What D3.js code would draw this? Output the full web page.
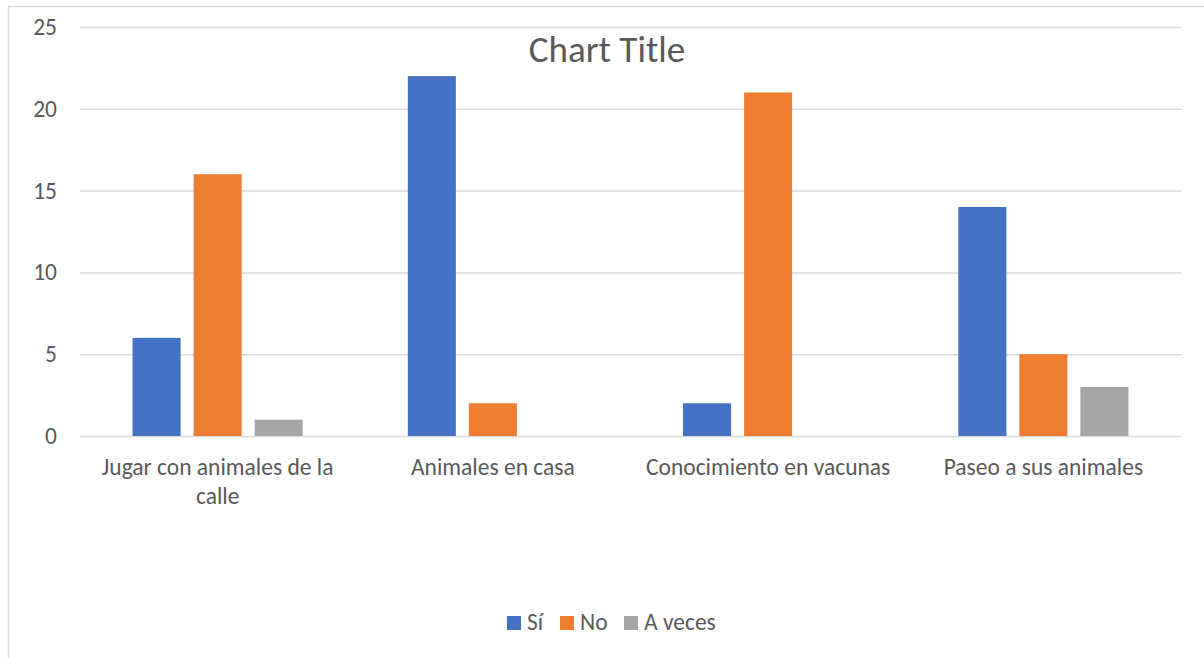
<!DOCTYPE html>
<html>
<head>
<meta charset="utf-8">
<script src="https://cdn.jsdelivr.net/npm/d3@7"></script>
<style>
  html, body { margin: 0; padding: 0; background: #fff; }
  svg { display: block; }
  text { font-family: Calibri, Carlito, Lato, "Open Sans", sans-serif; fill: #595959; }
</style>
</head>
<body>
<svg id="chart" width="1204" height="658"></svg>
<script>
const categories = ["Jugar con animales de la calle", "Animales en casa", "Conocimiento en vacunas", "Paseo a sus animales"];
const seriesNames = ["Sí", "No", "A veces"];
const valuesSi = [6, 22, 2, 14];
const valuesNo = [16, 2, 21, 5];
const valuesAVeces = [1, 0, 0, 3];
const yTicks = [0, 5, 10, 15, 20, 25];
const colors = ["#4472C4", "#ED7D31", "#A5A5A5"];
const chartTitle = "Chart Title";

const seriesValues = [valuesSi, valuesNo, valuesAVeces];
const data = categories.map((c, i) => ({ cat: c, vals: seriesNames.map((s, j) => ({ s, v: seriesValues[j][i] })) }));

const FONT = "Calibri, Carlito, Lato, 'Open Sans', sans-serif";
const FS = 23.5;
const svg = d3.select("#chart");
const W = 1204, H = 658;
const m = { left: 80, right: 23, top: 27, bottom: 222 };

svg.append("rect").attr("x", 8.5).attr("y", 6.5).attr("width", 1210).attr("height", 670)
  .attr("fill", "#fff").attr("stroke", "#D9D9D9").attr("stroke-width", 1.5);

const x0 = d3.scaleBand().domain(categories).range([m.left, W - m.right]).paddingInner(0).paddingOuter(0);
const x1 = d3.scaleBand().domain(seriesNames).range([0, x0.bandwidth()]).paddingInner(0.213).paddingOuter(0.861);
const y = d3.scaleLinear().domain([0, 25]).range([H - m.bottom, m.top]);

// gridlines
const yAxis = d3.axisLeft(y).tickValues(yTicks).tickSize(-(W - m.left - m.right)).tickPadding(23).tickFormat(d3.format("d"));
const gy = svg.append("g").attr("transform", `translate(${m.left},0)`).call(yAxis);
gy.select(".domain").remove();
gy.selectAll(".tick line").attr("stroke", "#D9D9D9").attr("stroke-width", 1.5);
gy.selectAll(".tick text").attr("font-size", FS).style("fill", "#595959").attr("font-family", FONT);

// bars
const groups = svg.append("g").selectAll("g").data(data).join("g")
  .attr("transform", d => `translate(${x0(d.cat)},0)`);
groups.selectAll("rect").data(d => d.vals).join("rect")
  .attr("x", d => x1(d.s))
  .attr("width", x1.bandwidth())
  .attr("y", d => y(d.v))
  .attr("height", d => y(0) - y(d.v))
  .attr("fill", (d, i) => colors[i]);

// x axis labels
const xAxis = d3.axisBottom(x0).tickSize(0).tickPadding(22);
const gx = svg.append("g").attr("transform", `translate(0,${y(0)})`).call(xAxis);
gx.select(".domain").remove();
gx.selectAll(".tick text").attr("font-size", FS).style("fill", "#595959").attr("font-family", FONT)
  .call(wrap, 258);

function wrap(sel, width) {
  sel.each(function () {
    const t = d3.select(this);
    const words = t.text().split(/\s+/);
    const yy = t.attr("y"), dy = parseFloat(t.attr("dy")) || 0;
    t.text(null);
    let line = [], lineNo = 0;
    let tspan = t.append("tspan").attr("x", 0).attr("y", yy).attr("dy", dy + "em");
    for (const w of words) {
      line.push(w);
      tspan.text(line.join(" "));
      if (tspan.node().getComputedTextLength() > width && line.length > 1) {
        line.pop();
        tspan.text(line.join(" "));
        line = [w];
        lineNo++;
        tspan = t.append("tspan").attr("x", 0).attr("y", yy).attr("dy", (dy + lineNo * 1.23) + "em").text(w);
      }
    }
  });
}

// title
svg.append("text").attr("x", 607).attr("y", 62).attr("text-anchor", "middle")
  .attr("font-size", 37).text(chartTitle);

// legend
const legendItems = [
  { name: seriesNames[0], x: 507 },
  { name: seriesNames[1], x: 560 },
  { name: seriesNames[2], x: 624 }
];
const lg = svg.append("g").selectAll("g").data(legendItems).join("g")
  .attr("transform", d => `translate(${d.x},616)`);
lg.append("rect").attr("width", 14).attr("height", 14).attr("fill", (d, i) => colors[i]);
lg.append("text").attr("x", 20).attr("y", 14).attr("font-size", FS).text(d => d.name);
</script>
</body>
</html>
